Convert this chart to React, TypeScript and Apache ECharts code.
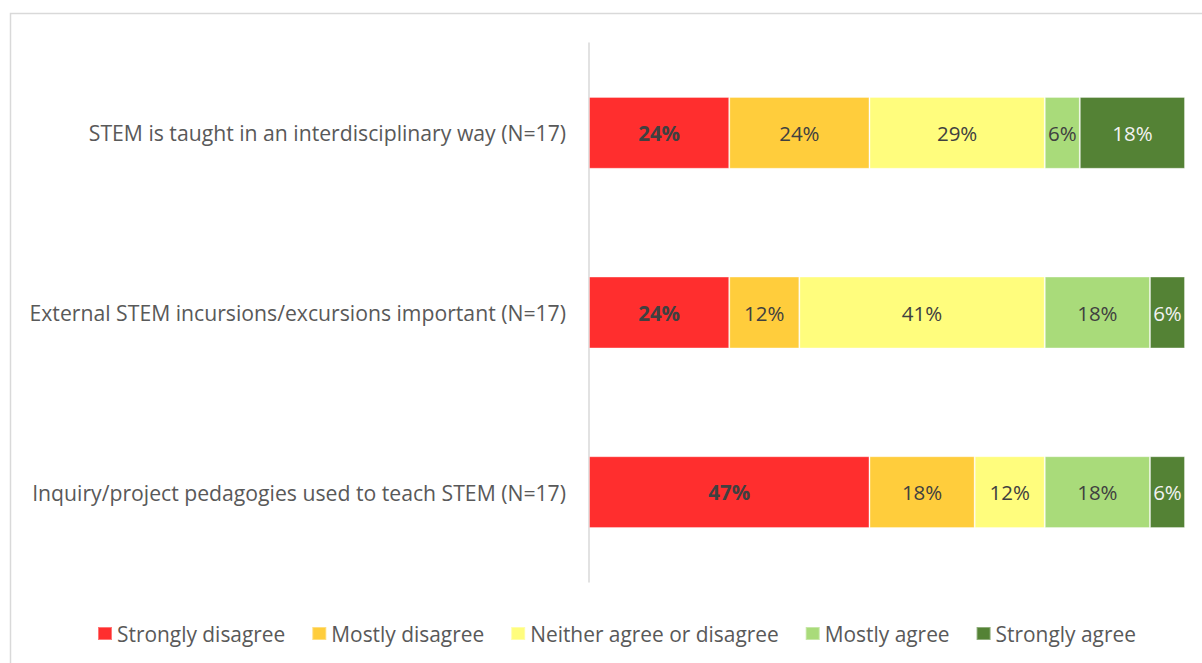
import React, { useEffect, useRef } from "react";
import * as echarts from "echarts";

const categories = [
  "STEM is taught in an interdisciplinary way (N=17)",
  "External STEM incursions/excursions important (N=17)",
  "Inquiry/project pedagogies used to teach STEM (N=17)",
];

const seriesNames = [
  "Strongly disagree",
  "Mostly disagree",
  "Neither agree or disagree",
  "Mostly agree",
  "Strongly agree",
];

const stronglyDisagree = [23.53, 23.53, 47.06];
const mostlyDisagree = [23.53, 11.76, 17.65];
const neither = [29.41, 41.18, 11.76];
const mostlyAgree = [5.88, 17.65, 17.65];
const stronglyAgree = [17.65, 5.88, 5.88];

const seriesValues = [stronglyDisagree, mostlyDisagree, neither, mostlyAgree, stronglyAgree];
const colors = ["#FF2E2E", "#FFCD3C", "#FFFD7D", "#A9DB7A", "#548235"];
const labelColors = ["#404040", "#404040", "#404040", "#404040", "#F2F2F2"];

const FONT = "Open Sans";
const FS = 21.2;

export default function App() {
  const ref = useRef<HTMLDivElement>(null);
  useEffect(() => {
    if (!ref.current) return;
    const chart = echarts.init(ref.current, null, { renderer: "svg" });
    chart.setOption({
      animation: false,
      backgroundColor: "#ffffff",
      textStyle: { fontFamily: FONT },
      graphic: [
        {
          type: "rect",
          shape: { x: 10.5, y: 13.5, width: 1200, height: 660 },
          style: { fill: "none", stroke: "#D9D9D9", lineWidth: 1.5 },
          silent: true,
        },
      ],
      grid: { left: 589, right: 17, top: 43, bottom: 81 },
      legend: {
        left: 92,
        top: 618,
        itemWidth: 14,
        itemHeight: 13,
        itemGap: 26,
        icon: "rect",
        textStyle: { fontFamily: FONT, fontSize: 20.9, color: "#595959", padding: [0, 0, 0, 0] },
        data: seriesNames,
      },
      xAxis: {
        type: "value",
        min: 0,
        max: 100,
        show: false,
      },
      yAxis: {
        type: "category",
        data: categories,
        inverse: true,
        axisLine: { show: true, lineStyle: { color: "#D9D9D9", width: 1.5 } },
        axisTick: { show: false },
        axisLabel: { fontFamily: FONT, fontSize: FS, color: "#595959", margin: 23 },
      },
      series: seriesNames.map((name, i) => ({
        name,
        type: "bar",
        stack: "total",
        barCategoryGap: "60%",
        data: seriesValues[i],
        itemStyle: { color: colors[i], borderColor: "rgba(255,255,255,0.35)", borderWidth: 1 },
        label: {
          show: true,
          position: "inside",
          fontFamily: FONT,
          fontSize: 20.5,
          fontWeight: i === 0 ? "bold" : "normal",
          color: labelColors[i],
          formatter: (p: any) => Math.round(p.value) + "%",
        },
      })),
    });
    return () => chart.dispose();
  }, []);
  return (
    <div
      ref={ref}
      style={{ position: "fixed", left: 0, top: 0, width: 1202, height: 663 }}
    />
  );
}
